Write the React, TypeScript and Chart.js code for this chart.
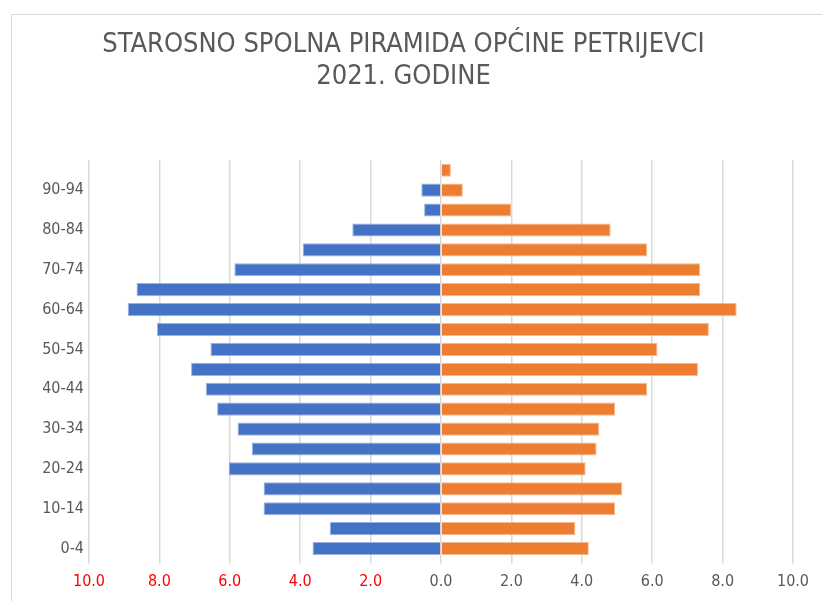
import React, { useEffect, useRef } from "react";
import { Chart, registerables } from "chart.js";

Chart.register(...registerables);

const ageGroups = ["0-4","5-9","10-14","15-19","20-24","25-29","30-34","35-39","40-44","45-49","50-54","55-59","60-64","65-69","70-74","75-79","80-84","85-89","90-94","95+"];
const maleShare = [3.65, 3.16, 5.04, 5.04, 6.03, 5.37, 5.78, 6.36, 6.68, 7.10, 6.55, 8.07, 8.90, 8.65, 5.87, 3.93, 2.52, 0.48, 0.56, 0];
const femaleShare = [4.20, 3.82, 4.95, 5.15, 4.11, 4.42, 4.50, 4.95, 5.86, 7.30, 6.15, 7.61, 8.40, 7.36, 7.36, 5.86, 4.82, 1.99, 0.62, 0.28];
const titleLines = ["STAROSNO SPOLNA PIRAMIDA OPĆINE PETRIJEVCI", "2021. GODINE"];

const FONT = "'Liberation Sans Narrow', 'DejaVu Sans Condensed', 'Roboto', sans-serif";

export default function App() {
  const ref = useRef<HTMLCanvasElement | null>(null);
  useEffect(() => {
    document.body.style.margin = "0";
    const ctx = ref.current!;
    const chart = new Chart(ctx, {
      type: "bar",
      data: {
        labels: ageGroups,
        datasets: [
          {
            label: "Muškarci",
            data: maleShare.map((v) => -v),
            backgroundColor: "#4472C4",
            borderColor: "rgba(143,170,220,0.9)",
            borderWidth: 1,
            barPercentage: 0.66,
            categoryPercentage: 1,
          },
          {
            label: "Žene",
            data: femaleShare,
            backgroundColor: "#ED7D31",
            borderColor: "rgba(244,177,131,0.9)",
            borderWidth: 1,
            barPercentage: 0.66,
            categoryPercentage: 1,
          },
        ],
      },
      options: {
        indexAxis: "y",
        animation: false,
        responsive: false,
        maintainAspectRatio: false,
        layout: { padding: { left: 14, right: 29, top: 0, bottom: 0 } },
        plugins: {
          legend: { display: false },
          tooltip: { enabled: false },
          title: {
            display: true,
            text: titleLines,
            color: "#595959",
            font: { family: FONT, size: 27, weight: "normal", lineHeight: 1.19 },
            padding: { top: 29, bottom: 67 },
          },
        },
        scales: {
          x: {
            stacked: true,
            min: -10,
            max: 10,
            ticks: {
              stepSize: 2,
              padding: 9,
              color: (c: any) => (c.tick && c.tick.value < 0 ? "#FF0000" : "#595959"),
              font: { family: FONT, size: 16 },
              callback: (v: any) => Math.abs(Number(v)).toFixed(1),
            },
            grid: { color: "#d9d9d9", lineWidth: 1.5, tickLength: 5, drawTicks: true },
            border: { display: false },
            afterFit: (s: any) => { s.height = 42.5; },
          },
          y: {
            stacked: true,
            reverse: true,
            grid: { display: false, drawTicks: false },
            border: { display: false },
            ticks: {
              autoSkip: false,
              padding: 5,
              color: "#595959",
              font: { family: FONT, size: 16 },
              callback: (_v: any, i: number) => (i % 2 === 0 ? ageGroups[i] : ""),
            },
            afterFit: (s: any) => { s.width = 75; },
          },
        },
      },
    });
    return () => chart.destroy();
  }, []);
  return (
    <div style={{ position: "relative", width: 822, height: 601, overflow: "hidden", background: "#fff" }}>
      <div style={{ position: "absolute", left: 11, top: 14, width: 900, height: 700, border: "1px solid #d9d9d9" }} />
      <canvas ref={ref} width={822} height={601} style={{ position: "absolute", left: 0, top: 0, width: 822, height: 601 }} />
    </div>
  );
}
